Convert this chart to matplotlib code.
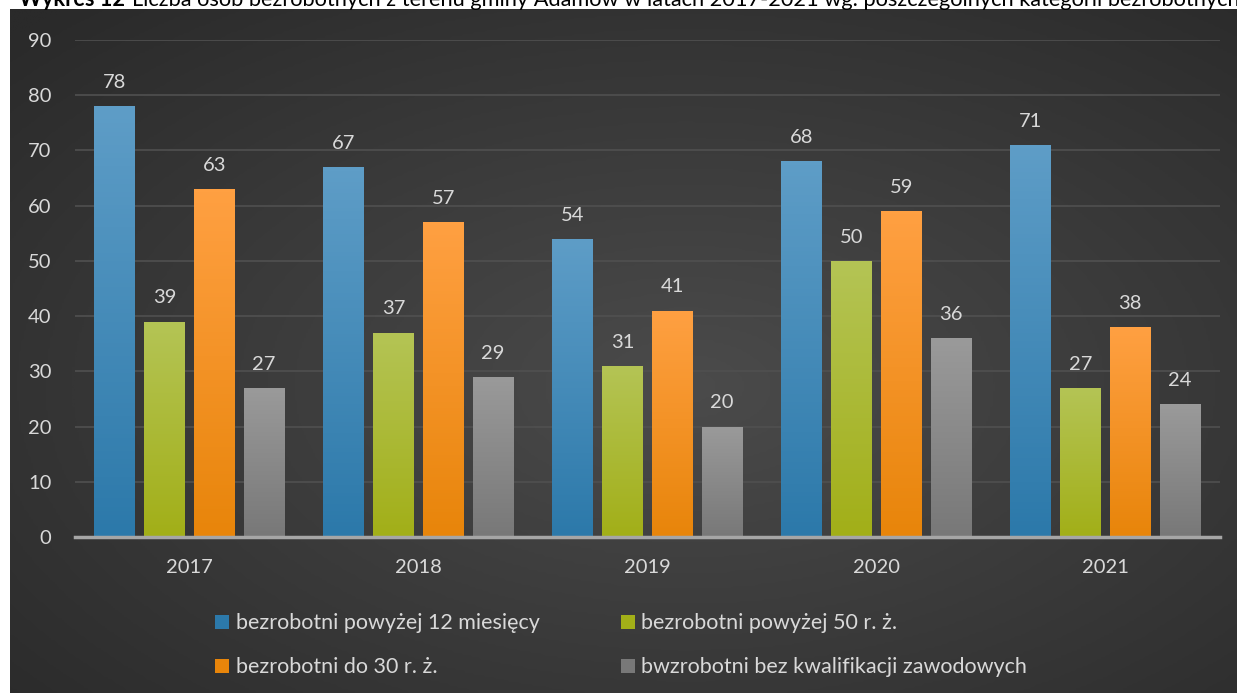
import numpy as np
import matplotlib.pyplot as plt
from matplotlib.colors import LinearSegmentedColormap
from matplotlib.patches import Patch

plt.rcParams['font.family'] = ['Lato', 'DejaVu Sans']

# data
years = ['2017', '2018', '2019', '2020', '2021']
over_12_months = [78, 67, 54, 68, 71]
over_50 = [39, 37, 31, 50, 27]
under_30 = [63, 57, 41, 59, 38]
no_qualif = [27, 29, 20, 36, 24]

labels = ['bezrobotni powyżej 12 miesięcy', 'bezrobotni powyżej 50 r. ż.',
          'bezrobotni do 30 r. ż.', 'bwzrobotni bez kwalifikacji zawodowych']
# (bottom colour, top colour) of each bar gradient
colors = [('#2c79aa', '#5e9dc7'), ('#a2af18', '#b4c455'),
          ('#e8850a', '#ffa042'), ('#787878', '#9a9a9a')]

W, H = 1237, 693
fig = plt.figure(figsize=(W / 100, H / 100), dpi=100)
fig.patch.set_facecolor('white')

# dark radial background
bg = fig.add_axes([10 / W, 0, 1 - 10 / W, 1 - 9 / H])
bg.set_axis_off()
yy, xx = np.mgrid[0:300, 0:540]
cx, cy = 0.55 * 540, 0.55 * 300
r = np.sqrt(((xx - cx) / 540) ** 2 + ((yy - cy) / 300) ** 2)
r = np.clip(r / 0.75, 0, 1)
bg_cmap = LinearSegmentedColormap.from_list('bg', ['#4b4b4b', '#2a2a2a'])
bg.imshow(r, cmap=bg_cmap, aspect='auto', interpolation='bilinear')

# title (cut at the top edge, as in the source)
fig.text(125 / W, 1 - 6 / H, 'Wykres 12', fontsize=15.7, fontweight='bold',
         color='black', ha='right', va='baseline')
fig.text(132 / W, 1 - 6 / H,
         'Liczba osób bezrobotnych z terenu gminy Adamów w latach 2017-2021 '
         'wg. poszczególnych kategorii bezrobotnych',
         fontsize=15.7, color='black', va='baseline')

ax = fig.add_axes([75 / W, 1 - 537 / H, 1145 / W, 497 / H])
ax.set_facecolor('none')

x = np.arange(len(years))
width = 0.179
step = 0.217
all_series = [over_12_months, over_50, under_30, no_qualif]
txt = '#d9d9d9'

for i, vals in enumerate(all_series):
    pos = x + (i - 1.5) * step
    bars = ax.bar(pos, vals, width, color=colors[i][0], zorder=3)
    cmap = LinearSegmentedColormap.from_list('c%d' % i, [colors[i][0], colors[i][1]])
    grad = np.linspace(0, 1, 100).reshape(-1, 1)
    for b in bars:
        bx, bw, bh = b.get_x(), b.get_width(), b.get_height()
        im = ax.imshow(grad, cmap=cmap, origin='lower', aspect='auto',
                       extent=[bx, bx + bw, 0, bh], zorder=4)
        im.set_clip_path(b)
    for p, v in zip(pos, vals):
        ax.annotate(str(v), (p, v), xytext=(0, 11), textcoords='offset points',
                    ha='center', va='bottom', fontsize=14.5, color=txt)

ax.set_xlim(-0.5, len(years) - 0.5)
ax.set_ylim(0, 90)
ax.set_yticks(range(0, 91, 10))
ax.set_xticks(x)
ax.set_xticklabels(years)
ax.yaxis.grid(True, color='#505050', linewidth=1.2, zorder=0)
ax.set_axisbelow(True)
ax.tick_params(colors=txt, labelsize=14.5, length=0)
ax.tick_params(axis='x', pad=16)
ax.tick_params(axis='y', pad=17)
for s in ['top', 'right', 'left']:
    ax.spines[s].set_visible(False)
ax.spines['bottom'].set_color('#a6a6a6')
ax.spines['bottom'].set_linewidth(2.5)
ax.spines['bottom'].set_zorder(5)

handles = [Patch(facecolor=colors[i][0], label=labels[i]) for i in [0, 2, 1, 3]]
fig.legend(handles=handles, loc='upper left', bbox_to_anchor=(196 / W, 1 - 594 / H),
           ncol=2, frameon=False, fontsize=15.5, labelcolor=txt,
           handlelength=0.65, handleheight=0.65, handletextpad=0.3,
           labelspacing=1.12, columnspacing=3.77)

fig.savefig('out.png', dpi=100, facecolor=fig.get_facecolor())
